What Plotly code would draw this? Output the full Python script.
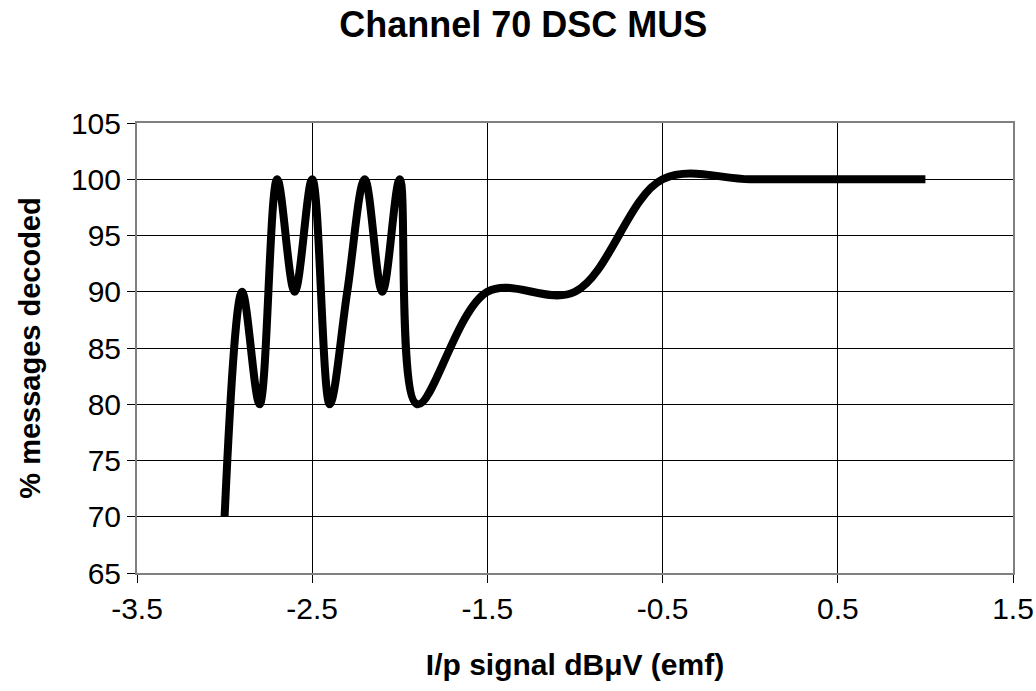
import plotly.graph_objects as go

# data
signal_db = [-3.0, -2.9, -2.8, -2.7, -2.6, -2.5, -2.4, -2.3, -2.2, -2.1, -2.0, -1.9,
             -1.5, -1.0, -0.5, 0.0, 0.5, 1.0]
pct_decoded = [70, 90, 80, 100, 90, 100, 80, 90, 100, 90, 100, 80,
               90, 90, 100, 100, 100, 100]

x_tick_vals = [-3.5, -2.5, -1.5, -0.5, 0.5, 1.5]
x_tick_text = ["-3.5", "-2.5", "-1.5", "-0.5", "0.5", "1.5"]
y_tick_vals = [65, 70, 75, 80, 85, 90, 95, 100, 105]
y_tick_text = ["65", "70", "75", "80", "85", "90", "95", "100", "105"]

FONT = "Liberation Sans, Arial, sans-serif"

fig = go.Figure()
fig.add_trace(go.Scatter(
    x=signal_db, y=pct_decoded, mode="lines",
    line=dict(color="black", width=8, shape="spline", smoothing=1.0),
    showlegend=False, hoverinfo="skip",
))

fig.update_layout(
    width=1036, height=691,
    paper_bgcolor="white", plot_bgcolor="white",
    margin=dict(l=137, r=23, t=123, b=118),
    title=dict(text="<b>Channel 70 DSC MUS</b>", x=0.505, xanchor="center",
               y=0.965, yanchor="middle", pad=dict(t=0, b=0),
               font=dict(family=FONT, size=36, color="black")),
    font=dict(family=FONT, color="black"),
)

fig.update_xaxes(
    range=[-3.5, 1.5], tickvals=x_tick_vals, ticktext=x_tick_text,
    showgrid=True, gridcolor="black", gridwidth=1,
    showline=True, linecolor="#808080", linewidth=2, mirror=True,
    ticks="outside", ticklen=8, tickcolor="black", tickwidth=1,
    tickfont=dict(family=FONT, size=30, color="black"),
    title=dict(text="<b>I/p signal dBμV (emf)</b>", standoff=30,
               font=dict(family=FONT, size=30, color="black")),
    zeroline=False, automargin=False,
)
fig.update_yaxes(
    range=[65, 105], tickvals=y_tick_vals, ticktext=y_tick_text,
    showgrid=True, gridcolor="black", gridwidth=1,
    showline=True, linecolor="#808080", linewidth=2, mirror=True,
    ticks="outside", ticklen=8, tickcolor="black", tickwidth=1,
    tickfont=dict(family=FONT, size=30, color="black"),
    title=dict(text="<b>% messages decoded</b>", standoff=22,
               font=dict(family=FONT, size=29, color="black")),
    zeroline=False, automargin=False,
)

# remove the default 8px page margin so the figure fills the window exactly
fig.write_html("out.html",
               config={"displayModeBar": False, "staticPlot": True},
               post_script="document.body.style.margin='0';"
                           "document.body.style.overflow='hidden';")
